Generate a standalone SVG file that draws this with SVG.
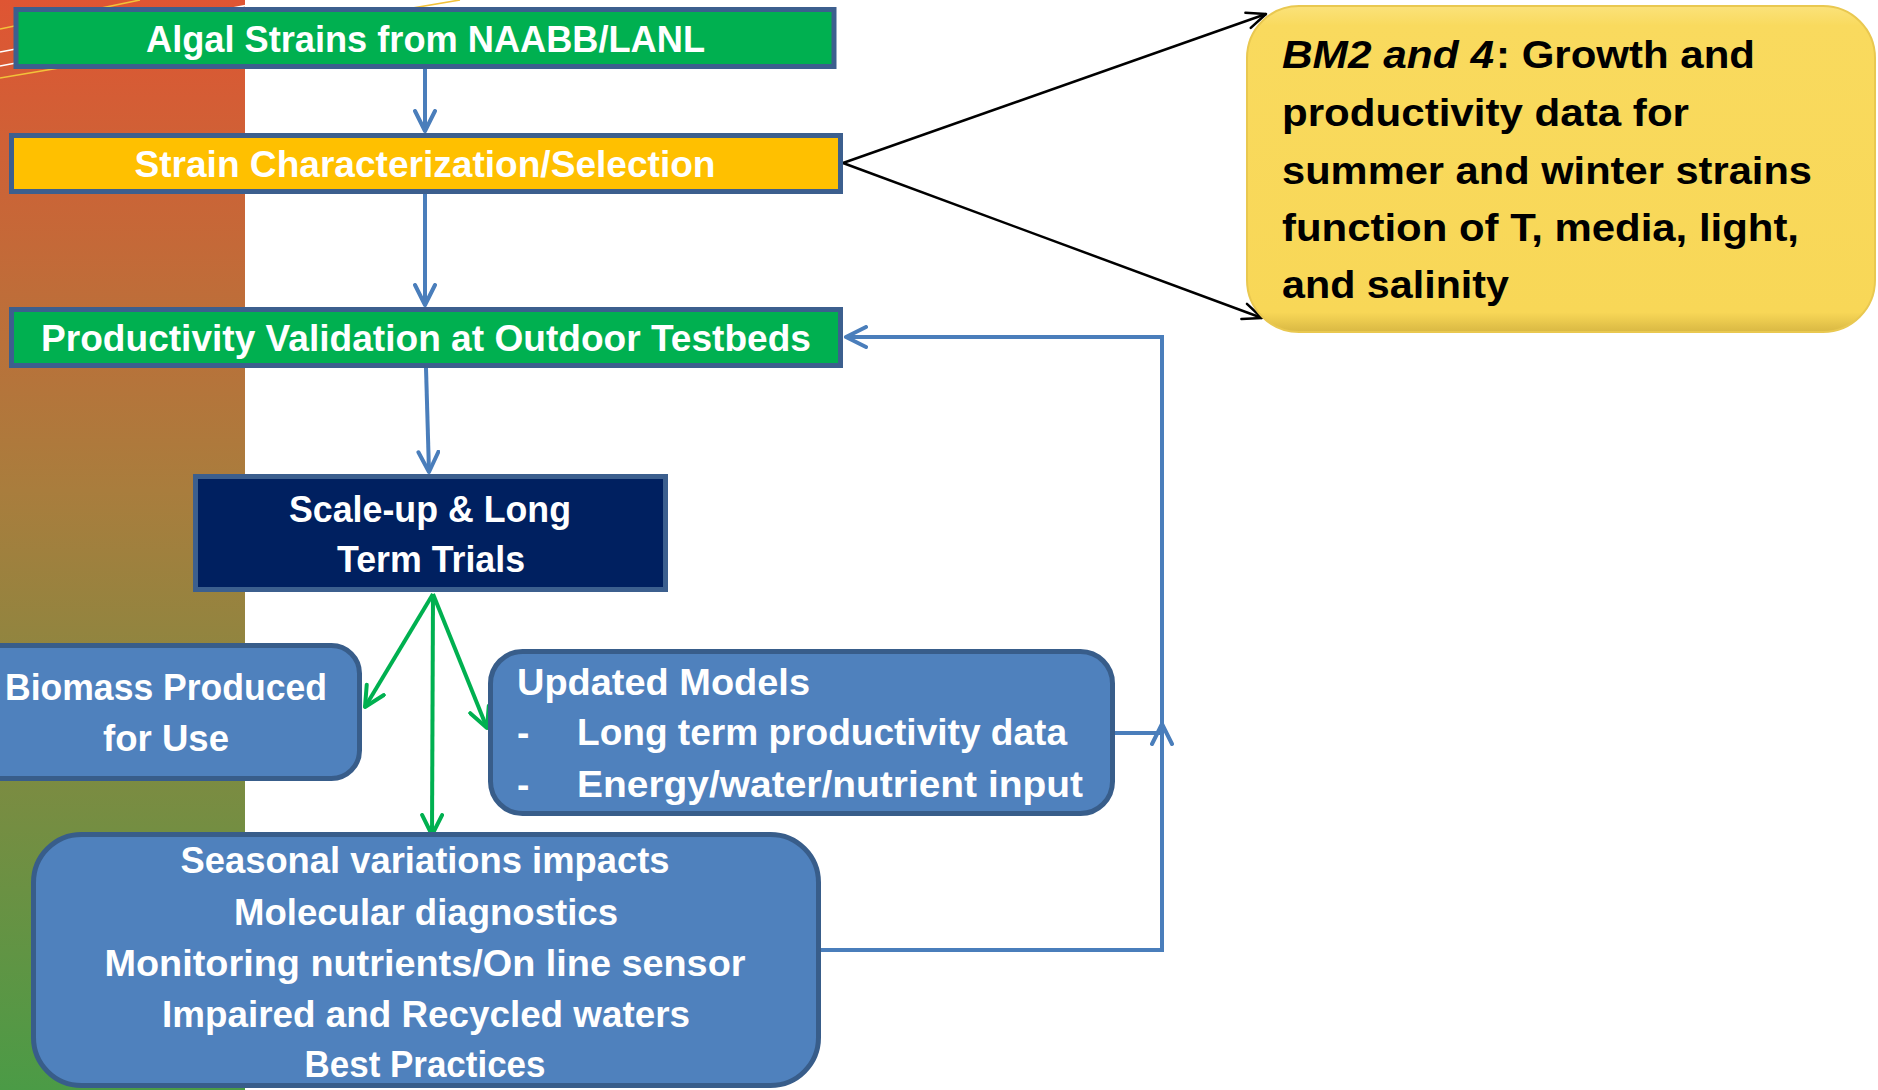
<svg xmlns="http://www.w3.org/2000/svg" width="1878" height="1090" viewBox="0 0 1878 1090">
  <style>
    .lbl { font-family: 'Liberation Sans', Arial, sans-serif; font-weight: bold; fill: #ffffff; font-size: 37px; }
    .mid { text-anchor: middle; }
    .dark { fill: #000000; font-size: 39px; }
    .bar { stroke: #3C5F8E; stroke-width: 5; }
    .pill { fill: #4F81BD; stroke: #385D8A; stroke-width: 5; }
    .blue { fill: none; stroke: #4A7EBB; stroke-width: 4; }
    .green { fill: none; stroke: #00B050; stroke-width: 4; }
    .black { fill: none; stroke: #000000; stroke-width: 2.5; }
  </style>
  <defs>
    <linearGradient id="strip" x1="0" y1="0" x2="0" y2="1">
      <stop offset="0" stop-color="#DF5533"/>
      <stop offset="0.45" stop-color="#A97D3D"/>
      <stop offset="1" stop-color="#4B9B46"/>
    </linearGradient>
    <linearGradient id="gold" x1="0" y1="0" x2="0" y2="1">
      <stop offset="0" stop-color="#FBE27A"/>
      <stop offset="0.06" stop-color="#F9DA5E"/>
      <stop offset="0.94" stop-color="#F8D757"/>
      <stop offset="1" stop-color="#D9B843"/>
    </linearGradient>
    <marker id="ahBlue" markerUnits="userSpaceOnUse" viewBox="-22 -12 26 24" refX="0" refY="0" markerWidth="26" markerHeight="24" orient="auto">
      <path d="M -20 -10 L 0 0 L -20 10" fill="none" stroke="#4A7EBB" stroke-width="4" stroke-linecap="round" stroke-linejoin="round"/>
    </marker>
    <marker id="ahGreen" markerUnits="userSpaceOnUse" viewBox="-22 -12 26 24" refX="0" refY="0" markerWidth="26" markerHeight="24" orient="auto">
      <path d="M -20 -10 L 0 0 L -20 10" fill="none" stroke="#00B050" stroke-width="4" stroke-linecap="round" stroke-linejoin="round"/>
    </marker>
    <marker id="ahBlack" markerUnits="userSpaceOnUse" viewBox="-22 -12 26 24" refX="0" refY="0" markerWidth="26" markerHeight="24" orient="auto">
      <path d="M -19 -8 L 0 0 L -19 8" fill="none" stroke="#000000" stroke-width="2.5" stroke-linecap="round" stroke-linejoin="round"/>
    </marker>
  </defs>

  <rect width="1878" height="1090" fill="#ffffff"/>

  <!-- side band with template swooshes -->
  <g id="backdrop">
    <rect x="0" y="0" width="245" height="1090" fill="url(#strip)"/>
    <g fill="none" stroke-width="1.6">
      <line x1="0" y1="29" x2="140" y2="0" stroke="#F2C23A"/>
      <line x1="0" y1="52" x2="275" y2="0" stroke="#ffffff"/>
      <line x1="0" y1="66" x2="350" y2="0" stroke="#ffffff"/>
      <line x1="0" y1="78" x2="460" y2="0" stroke="#F2C23A"/>
    </g>
  </g>

  <!-- connectors -->
  <g id="connectors">
    <line class="blue" x1="425" y1="69" x2="425" y2="131" marker-end="url(#ahBlue)"/>
    <line class="blue" x1="425" y1="194" x2="425" y2="305" marker-end="url(#ahBlue)"/>
    <line class="blue" x1="426" y1="368" x2="429" y2="472" marker-end="url(#ahBlue)"/>
    <path class="blue" d="M 1115 733 H 1162 V 337 H 846" marker-end="url(#ahBlue)"/>
    <path class="blue" d="M 821 950 H 1162 V 724" marker-end="url(#ahBlue)"/>
    <line class="green" x1="433" y1="594" x2="365" y2="707" marker-end="url(#ahGreen)"/>
    <line class="green" x1="433" y1="594" x2="432" y2="835" marker-end="url(#ahGreen)"/>
    <line class="green" x1="433" y1="594" x2="487" y2="728" marker-end="url(#ahGreen)"/>
    <line class="black" x1="843" y1="163" x2="1266" y2="14" marker-end="url(#ahBlack)"/>
    <line class="black" x1="843" y1="163" x2="1262" y2="318" marker-end="url(#ahBlack)"/>
  </g>

  <g id="algal-strains">
    <rect class="bar" x="16" y="9.5" width="818" height="57" fill="#00B050"/>
    <text class="lbl mid" x="425.5" y="52" textLength="559" lengthAdjust="spacingAndGlyphs">Algal Strains from NAABB/LANL</text>
  </g>

  <g id="strain-characterization">
    <rect class="bar" x="11.5" y="135.5" width="829" height="56" fill="#FFC000"/>
    <text class="lbl mid" x="425" y="177" textLength="581" lengthAdjust="spacingAndGlyphs">Strain Characterization/Selection</text>
  </g>

  <g id="productivity-validation">
    <rect class="bar" x="11.5" y="309.5" width="829" height="56" fill="#00B050"/>
    <text class="lbl mid" x="426" y="351" textLength="770" lengthAdjust="spacingAndGlyphs">Productivity Validation at Outdoor Testbeds</text>
  </g>

  <g id="scale-up">
    <rect class="bar" x="195.5" y="476.5" width="470" height="113" fill="#002060"/>
    <text class="lbl mid" x="430" y="522" textLength="282" lengthAdjust="spacingAndGlyphs">Scale-up &amp; Long</text>
    <text class="lbl mid" x="431" y="572" textLength="188" lengthAdjust="spacingAndGlyphs">Term Trials</text>
  </g>

  <g id="biomass">
    <rect class="pill" x="-30" y="645.5" width="389.5" height="133" rx="28"/>
    <text class="lbl mid" x="166" y="700" textLength="322" lengthAdjust="spacingAndGlyphs">Biomass Produced</text>
    <text class="lbl mid" x="166" y="751" textLength="126" lengthAdjust="spacingAndGlyphs">for Use</text>
  </g>

  <g id="updated-models">
    <rect class="pill" x="490.5" y="651.5" width="622" height="162" rx="32"/>
    <text class="lbl" x="517" y="695" textLength="293" lengthAdjust="spacingAndGlyphs">Updated Models</text>
    <text class="lbl" x="517" y="745">-</text>
    <text class="lbl" x="577" y="745" textLength="490" lengthAdjust="spacingAndGlyphs">Long term productivity data</text>
    <text class="lbl" x="517" y="797">-</text>
    <text class="lbl" x="577" y="797" textLength="506" lengthAdjust="spacingAndGlyphs">Energy/water/nutrient input</text>
  </g>

  <g id="seasonal">
    <rect class="pill" x="33.5" y="834.5" width="785" height="251" rx="48"/>
    <text class="lbl mid" x="425" y="873" textLength="489" lengthAdjust="spacingAndGlyphs">Seasonal variations impacts</text>
    <text class="lbl mid" x="426" y="925" textLength="384" lengthAdjust="spacingAndGlyphs">Molecular diagnostics</text>
    <text class="lbl mid" x="425" y="976" textLength="641" lengthAdjust="spacingAndGlyphs">Monitoring nutrients/On line sensor</text>
    <text class="lbl mid" x="426" y="1027" textLength="528" lengthAdjust="spacingAndGlyphs">Impaired and Recycled waters</text>
    <text class="lbl mid" x="425" y="1077" textLength="241" lengthAdjust="spacingAndGlyphs">Best Practices</text>
  </g>

  <g id="bm2-bm4">
    <rect x="1247" y="6" width="628" height="326" rx="52" fill="url(#gold)" stroke="#E9C850" stroke-width="2"/>
    <text class="lbl dark" x="1282" y="68" font-style="italic" textLength="212" lengthAdjust="spacingAndGlyphs">BM2 and 4</text>
    <text class="lbl dark" x="1496" y="68" textLength="259" lengthAdjust="spacingAndGlyphs">: Growth and</text>
    <text class="lbl dark" x="1282" y="126" textLength="407" lengthAdjust="spacingAndGlyphs">productivity data for</text>
    <text class="lbl dark" x="1282" y="184" textLength="530" lengthAdjust="spacingAndGlyphs">summer and winter strains</text>
    <text class="lbl dark" x="1282" y="241" textLength="517" lengthAdjust="spacingAndGlyphs">function of T, media, light,</text>
    <text class="lbl dark" x="1282" y="298" textLength="227" lengthAdjust="spacingAndGlyphs">and salinity</text>
  </g>
</svg>
